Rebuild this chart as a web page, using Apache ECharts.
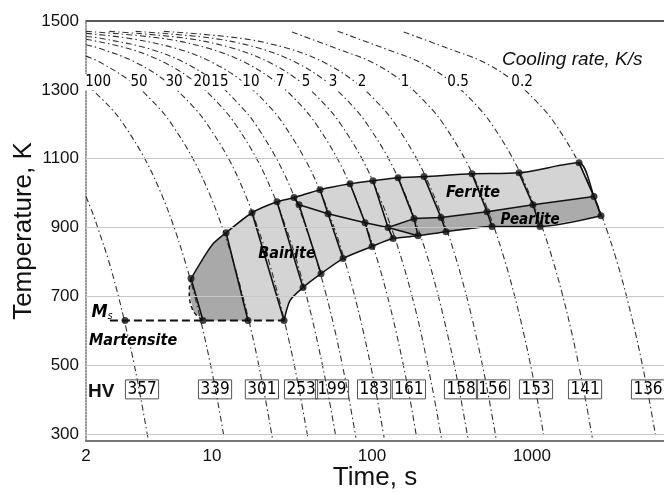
<!DOCTYPE html>
<html><head><meta charset="utf-8">
<script src="https://cdn.jsdelivr.net/npm/echarts@6/dist/echarts.min.js"></script>
<style>html,body{margin:0;padding:0;background:#fff}#c{width:664px;height:492px}</style>
</head><body><div id="c"></div>
<script>
// ---- cooling curves (time s, temperature K) ----
const c300 = [[1.63,990],[1.8,940],[1.93,900],[2.27,800],[2.6,700],[2.93,600],[3.27,500],[3.6,400],[3.97,290]];
const c100 = [[1.63,1317],[2.3,1250],[2.8,1200],[3.8,1100],[4.8,1000],[5.8,900],[6.8,800],[7.8,700],[8.8,600],[9.8,500],[10.8,400],[11.9,290]];
const c50 = [[1.63,1398],[2.0,1380],[3.2,1320],[4.6,1250],[5.6,1200],[7.6,1100],[9.6,1000],[11.6,900],[13.6,800],[15.6,700],[17.6,600],[19.6,500],[21.6,400],[23.8,290]];
const c30 = [[1.63,1431],[2.0,1420],[3.33,1380],[5.33,1320],[7.67,1250],[9.33,1200],[12.7,1100],[16,1000],[19.3,900],[22.7,800],[26,700],[29.3,600],[32.7,500],[36,400],[39.7,290]];
const c20 = [[1.63,1447],[3,1420],[5,1380],[8,1320],[11.5,1250],[14,1200],[19,1100],[24,1000],[29,900],[34,800],[39,700],[44,600],[49,500],[54,400],[59.5,290]];
const c15 = [[1.63,1455],[2,1450],[4,1420],[6.67,1380],[10.7,1320],[15.3,1250],[18.7,1200],[25.3,1100],[32,1000],[38.7,900],[45.3,800],[52,700],[58.7,600],[65.3,500],[72,400],[79.3,290]];
const c10 = [[1.63,1464],[3,1450],[6,1420],[10,1380],[16,1320],[23,1250],[28,1200],[38,1100],[48,1000],[58,900],[68,800],[78,700],[88,600],[98,500],[108,400],[119,290]];
const c7 = [[1.63,1470],[4.8,1450],[9.6,1420],[16,1380],[25.6,1320],[36.8,1250],[44.8,1200],[60.8,1100],[76.8,1000],[92.8,900],[109,800],[125,700],[141,600],[157,500],[173,400],[190,290]];
const c5 = [[2.28,1470],[6.84,1450],[13.7,1420],[22.8,1380],[36.5,1320],[52.4,1250],[63.8,1200],[86.6,1100],[109,1000],[132,900],[155,800],[178,700],[201,600],[223,500],[246,400],[271,290]];
const c3 = [[3.33,1470],[10,1450],[20,1420],[33.3,1380],[53.3,1320],[76.7,1250],[93.3,1200],[127,1100],[160,1000],[193,900],[227,800],[260,700],[293,600],[327,500],[360,400],[397,290]];
const c2 = [[5,1470],[15,1450],[30,1420],[50,1380],[80,1320],[115,1250],[140,1200],[190,1100],[240,1000],[290,900],[340,800],[390,700],[440,600],[490,500],[540,400],[595,290]];
const c1 = [[31.6,1468],[60,1420],[100,1380],[160,1320],[230,1250],[280,1200],[380,1100],[480,1000],[580,900],[680,800],[780,700],[880,600],[980,500],[1080,400],[1190,290]];
const c05 = [[61,1470],[120,1420],[200,1380],[320,1320],[460,1250],[560,1200],[760,1100],[960,1000],[1160,900],[1360,800],[1560,700],[1760,600],[1960,500],[2160,400],[2380,290]];
const c02 = [[158,1468],[300,1420],[500,1380],[800,1320],[1150,1250],[1400,1200],[1900,1100],[2400,1000],[2900,900],[3400,800],[3900,700],[4400,600],[4900,500],[5400,400],[5950,290]];
const curves = [c300,c100,c50,c30,c20,c15,c10,c7,c5,c3,c2,c1,c05,c02];

// ---- cooling rate labels (K/s) ----
const rateLabels = ['100','50','30','20','15','10','7','5','3','2','1','0.5','0.2'];
const rateLabelTimes = [1.94,3.5,5.79,8.66,11.2,17.5,26.6,38.7,57.0,86.6,161,345,866];
const rateLabelTemp = 1322;

// ---- hardness HV ----
const hvValues = [357,339,301,253,199,183,161,158,156,153,141,136];
const hvTimes = [3.65,10.44,20.5,36.0,56.2,103,170,360,570,1059,2145,5309];
const hvTemp = 430;

// ---- phase boundaries ----
const transStart = [[7.39,752],[8.78,810],[10.15,853],[12.24,885],[17.78,943],[25.48,975],[32.54,987],[47.32,1010],[72.88,1027],[101.4,1036],[145.4,1045],[211.3,1048],[421.7,1056],[829.3,1059],[1967,1088],[2441,990],[2700,934]];
const transFinish = [[2700,934],[1122,903],[562.3,903],[290.1,888],[193.9,876],[135.3,868],[100,845],[65.88,810],[48.01,766],[37.05,726],[30.7,688],[28.18,630]];
const leftEdge = [[7.39,752],[7.2,717],[7.6,659],[8.78,630]];
const bainiteStart = [[32.54,987],[34.98,966],[53.09,940],[90.41,914],[125.9,900]];
const pearliteStart = [[125.9,900],[183,926],[269.9,929],[523.3,946],[1014,966],[2441,990]];
const pearliteFinishTip = [[193.9,876],[125.9,900]];
const msLine = [[2.30,630],[28.18,630]];
const pearliteArea = [[125.9,900],[183,926],[269.9,929],[523.3,946],[1014,966],[2441,990],[2700,934],[1122,903],[562.3,903],[290.1,888],[193.9,876]];
const martBainiteArea = [[7.39,752],[8.78,810],[10.15,853],[12.24,885],[16.79,630],[8.78,630],[7.6,659],[7.2,717]];

// solid parts of cooling curves inside the transformation zone
const seg100 = [[7.39,752],[8.78,630]];
const seg50 = [[12.24,885],[16.79,630]];
const seg30 = [[17.78,943],[28.18,630]];
const seg20 = [[25.48,975],[37.05,726]];
const seg15 = [[32.54,987],[34.98,966],[48.01,766]];
const seg10 = [[47.32,1010],[53.09,940],[65.88,810]];
const seg7 = [[72.88,1027],[90.41,914],[100,845]];
const seg5 = [[101.4,1036],[125.9,900],[135.3,868]];
const seg3 = [[145.4,1045],[183,926],[193.9,876]];
const seg2 = [[211.3,1048],[269.9,929],[290.1,888]];
const seg1 = [[421.7,1056],[523.3,946],[562.3,903]];
const seg05 = [[829.3,1059],[1014,966],[1122,903]];
const seg02 = [[1967,1088],[2441,990],[2700,934]];
const segments = [seg100,seg50,seg30,seg20,seg15,seg10,seg7,seg5,seg3,seg2,seg1,seg05,seg02];

const dotPoints = [[7.39,752],[12.24,885],[17.78,943],[25.48,975],[32.54,987],[47.32,1010],[72.88,1027],[101.4,1036],[145.4,1045],[211.3,1048],[421.7,1056],[829.3,1059],[1967,1088],[2441,990],[2700,934],
  [34.98,966],[53.09,940],[90.41,914],[125.9,900],[183,926],[269.9,929],[523.3,946],[1014,966],
  [1122,903],[562.3,903],[290.1,888],[193.9,876],[135.3,868],[100,845],[65.88,810],[48.01,766],[37.05,726],[28.18,630],
  [2.86,630],[8.78,630],[16.79,630]];

// phase names
const phaseNames = ['Ferrite','Pearlite','Bainite','Martensite'];
const phasePos = [[428,1001],[972,923],[29.4,824],[3.21,572]];
const phaseFontSizes = [16, 15, 16, 16];
const msLabelPos = [2.05,653];

const gridTemps = [300,500,700,900,1100];
const xMin = 1.63, xMax = 6683, yMin = 280, yMax = 1500;

const NARROW = "'Liberation Sans Narrow','Arial Narrow','DejaVu Sans Condensed','Roboto Condensed','Liberation Sans',sans-serif";
const SANS = "'Liberation Sans',Arial,sans-serif";

function polySeries(pts, fill, z) {
  return {
    type: 'custom', coordinateSystem: 'cartesian2d', z: z, silent: true,
    data: pts, encode: {x: 0, y: 1},
    renderItem: function (params, api) {
      if (params.dataIndex !== 0) return null;
      return { type: 'polygon', shape: { points: pts.map(p => api.coord(p)) }, style: { fill: fill } };
    }
  };
}
function lineSeries(data, opt) {
  return Object.assign({
    type: 'line', data: data, symbol: 'none', silent: true, z: 4,
    lineStyle: { color: '#111', width: 1.5 }
  }, opt);
}
function textSeries(data, label) {
  return { type: 'scatter', z: 8, silent: true, symbolSize: 0, itemStyle: { color: '#000' },
    data: data, label: Object.assign({ show: true, position: 'inside', formatter: p => p.name,
      color: '#000', textBorderWidth: 0, opacity: 1 }, label) };
}

const series = [];
series.push(polySeries(transStart.concat(transFinish.slice(1)).concat([[16.79,630],[8.78,630],[7.6,659],[7.2,717]]), '#d4d4d4', 1));
series.push(polySeries(martBainiteArea, '#a9a9a9', 1));
series.push(polySeries(pearliteArea, '#ababab', 1));

curves.forEach(function (c, i) {
  const s = lineSeries(c, { smooth: 0.35, z: 2, lineStyle: { color: '#333', width: 1.1, type: [6, 3, 1.5, 3] } });
  if (i === 0) {
    s.markLine = { silent: true, symbol: 'none', label: { show: false },
      lineStyle: { color: '#c8c8c8', type: 'solid', width: 1 },
      data: gridTemps.map(v => ({ yAxis: v })) };
  }
  series.push(s);
});
segments.forEach(function (s) { series.push(lineSeries(s, { lineStyle: { color: '#111', width: 1.6 } })); });
series.push(lineSeries(transStart, { smooth: 0.25 }));
series.push(lineSeries(transFinish, { smooth: 0.25 }));
series.push(lineSeries(bainiteStart, {}));
series.push(lineSeries(pearliteStart, {}));
series.push(lineSeries(pearliteFinishTip, {}));
series.push(lineSeries(leftEdge, { smooth: 0.4, lineStyle: { color: '#111', width: 1.5, type: [4, 3] } }));
series.push(lineSeries(msLine, { lineStyle: { color: '#111', width: 2, type: [8, 4] } }));

series.push({ type: 'scatter', data: dotPoints, symbolSize: 7, z: 6, silent: true, itemStyle: { color: '#111' } });

series.push(textSeries(rateLabels.map((r, i) => ({ value: [rateLabelTimes[i], rateLabelTemp], name: r })),
  { fontFamily: NARROW, fontSize: 15, backgroundColor: '#fff', padding: [1, 1, 0, 1] }));
series.push(textSeries(hvValues.map((v, i) => ({ value: [hvTimes[i], hvTemp], name: String(v) })),
  { fontFamily: NARROW, fontSize: 17, borderColor: '#555', borderWidth: 1, padding: [2, 2, 0, 2] }));
series.push(textSeries(phaseNames.map((n, i) => ({ value: phasePos[i], name: n, label: { fontSize: phaseFontSizes[i] } })),
  { fontFamily: NARROW, fontStyle: 'italic', fontWeight: 'bold', fontSize: 16 }));
series.push(textSeries([{ value: msLabelPos, name: 'Ms' }], {
  formatter: '{m|M}{s|s}',
  rich: { m: { fontFamily: NARROW, fontStyle: 'italic', fontWeight: 'bold', fontSize: 18, color: '#000' },
          s: { fontFamily: NARROW, fontStyle: 'italic', fontSize: 10, color: '#000', padding: [8, 0, 0, 0] } } }));

const chart = echarts.init(document.getElementById('c'), null, { renderer: 'canvas' });
chart.setOption({
  animation: false,
  backgroundColor: '#fff',
  grid: { left: 86, right: 0, top: 21, bottom: 51, containLabel: false, outerBoundsMode: 'none' },
  xAxis: [{
    type: 'log', logBase: 10, min: xMin, max: xMax,
    name: 'Time, s', nameLocation: 'middle', nameGap: 24, nameMoveOverlap: false,
    nameTextStyle: { fontFamily: SANS, fontSize: 26, color: '#111' },
    axisLine: { show: true, lineStyle: { color: '#777', width: 2 } },
    axisTick: { show: false }, splitLine: { show: false }, minorTick: { show: false },
    axisLabel: { fontFamily: SANS, fontSize: 17, color: '#111', margin: 7,
      formatter: v => (v < 2 ? '2' : (v > 5000 ? '' : String(Math.round(v)))) }
  }, {
    type: 'log', logBase: 10, min: xMin, max: xMax, position: 'top',
    axisLine: { show: true, lineStyle: { color: '#222', width: 1.5 } },
    axisTick: { show: false }, axisLabel: { show: false }, splitLine: { show: false }
  }],
  yAxis: {
    type: 'value', min: yMin, max: yMax, interval: 20,
    name: 'Temperature, K', nameLocation: 'middle', nameGap: 49, nameMoveOverlap: false,
    nameTextStyle: { fontFamily: SANS, fontSize: 26, color: '#111' },
    axisLine: { show: true, lineStyle: { color: '#777', width: 1.5, type: 'dotted' } },
    axisTick: { show: false }, splitLine: { show: false },
    axisLabel: { fontFamily: SANS, fontSize: 17, color: '#111', margin: 7,
      formatter: v => ((v - 300) % 200 === 0 ? String(v) : '') }
  },
  graphic: [
    { type: 'text', left: 502, top: 50, silent: true,
      style: { text: 'Cooling rate, K/s', font: 'italic 19px ' + SANS, fill: '#111' } },
    { type: 'text', left: 88, top: 382, silent: true,
      style: { text: 'HV', font: 'bold 19px ' + SANS, fill: '#111' } }
  ],
  series: series
});
</script>
</body></html>
